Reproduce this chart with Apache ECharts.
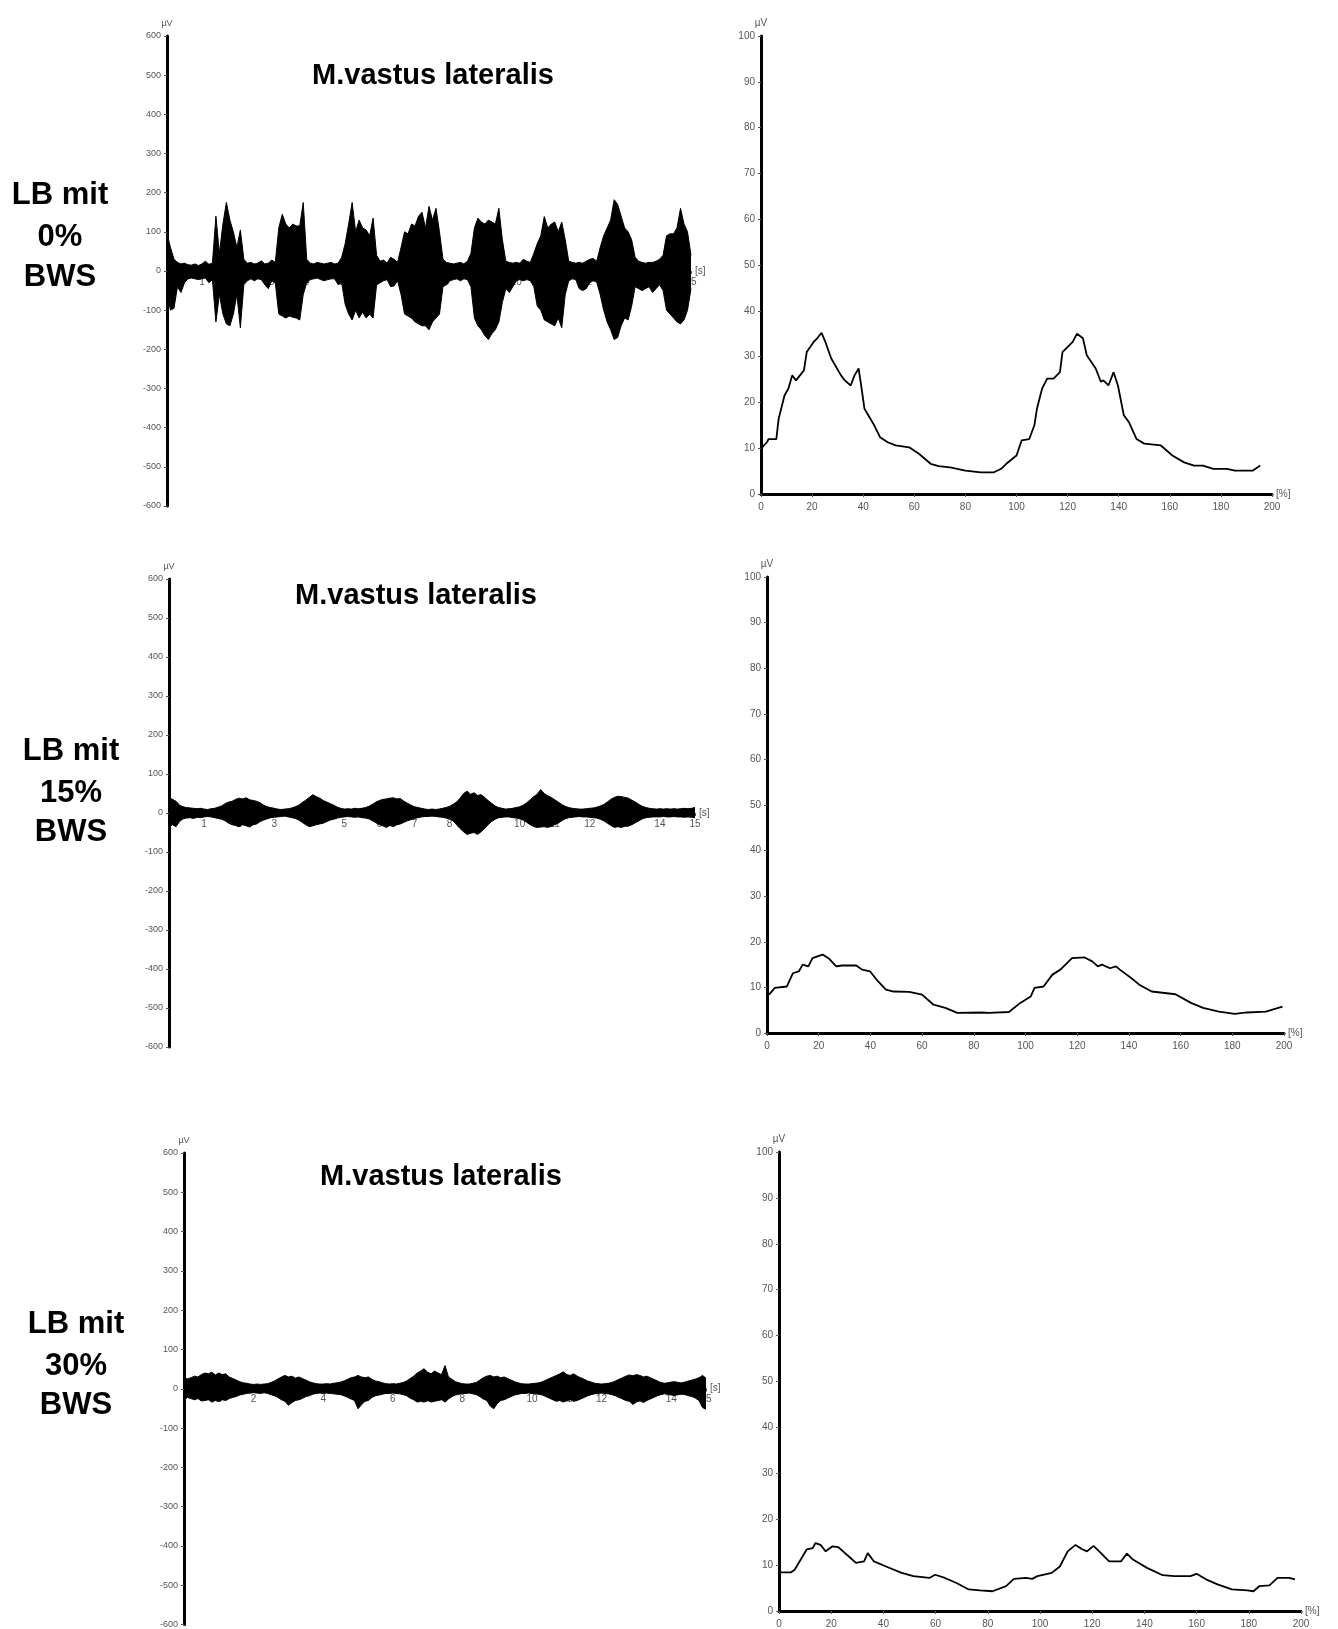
<!DOCTYPE html>
<html><head><meta charset="utf-8">
<script src="https://cdn.jsdelivr.net/npm/echarts@6/dist/echarts.min.js"></script>
<style>html,body{margin:0;padding:0;background:#fff}#c{width:1338px;height:1629px}</style>
</head><body><div id="c"></div>
<script>
// ---------- DATA ----------
// Raw EMG (µV), sampled every 0.1 s from 0 to 15 s: upper and lower extent of the trace
const STEP = 0.1;
const raw1Up = [95,60,30,22,18,20,16,15,18,14, 18,25,17,20,140,45,120,175,130,100, 60,105,30,20,22,18,20,26,18,20,
  28,22,110,145,120,110,120,115,115,175, 30,20,18,22,20,18,20,22,18,20, 35,70,120,175,100,130,110,105,90,135,
  40,25,28,20,35,30,22,60,100,95, 120,115,140,150,110,165,130,160,100,30, 22,20,18,20,22,18,25,45,110,135,
  125,120,130,125,120,160,80,25,22,20, 22,20,30,25,22,45,70,90,139,110, 120,125,100,125,80,25,22,20,22,20,
  25,30,32,25,60,90,110,130,182,170, 140,110,100,80,35,25,22,20,22,22, 25,30,40,90,95,95,110,160,120,100, 40];
const raw1Lo = [-60,-100,-95,-40,-55,-30,-20,-18,-20,-22, -20,-18,-30,-22,-130,-60,-110,-135,-140,-110,
  -60,-145,-35,-25,-20,-25,-20,-22,-35,-45, -25,-30,-110,-115,-120,-115,-118,-120,-125,-60,
  -30,-22,-20,-18,-22,-25,-22,-20,-20,-35, -30,-85,-110,-125,-100,-120,-105,-120,-110,-120,
  -35,-30,-25,-22,-40,-38,-25,-60,-110,-115, -120,-130,-135,-140,-140,-150,-130,-120,-110,-40,
  -35,-25,-22,-20,-25,-20,-22,-40,-120,-140, -150,-165,-175,-160,-150,-130,-80,-45,-55,-40,
  -25,-22,-25,-22,-25,-40,-90,-100,-125,-130, -135,-140,-120,-145,-60,-25,-20,-22,-45,-50,
  -45,-30,-25,-28,-60,-100,-130,-150,-175,-170, -140,-120,-125,-90,-40,-45,-50,-45,-40,-55,
  -45,-35,-50,-100,-110,-120,-130,-135,-125,-100, -45];

const raw2Up = [39,35,30,20,16,14,13,12,11,12, 10,9,11,12,15,18,24,28,30,35, 38,36,39,34,32,30,26,20,16,14,
  12,10,9,10,11,13,16,20,27,33, 40,47,42,38,32,28,24,20,15,12, 10,11,10,12,11,12,14,17,22,28,
  32,35,36,38,39,36,37,30,25,20, 16,14,12,10,9,10,9,10,12,14, 17,22,28,38,50,56,48,52,45,47,
  40,32,25,18,14,12,10,11,12,14, 16,20,26,34,42,48,60,50,44,40, 34,28,22,17,14,12,11,10,10,11,
  12,13,15,18,22,28,35,40,43,42, 40,38,33,28,22,17,14,12,11,10, 11,10,11,10,11,10,11,12,11,12, 14];
const raw2Lo = [-37,-30,-35,-22,-15,-13,-12,-14,-11,-12, -10,-9,-10,-12,-14,-16,-20,-26,-30,-32,
  -35,-30,-33,-36,-30,-28,-22,-18,-15,-12, -11,-10,-9,-8,-10,-12,-14,-18,-24,-30,
  -35,-33,-30,-28,-26,-22,-18,-16,-13,-11, -10,-9,-10,-11,-10,-12,-13,-15,-20,-25,
  -30,-33,-37,-32,-35,-30,-28,-24,-20,-17, -14,-12,-10,-9,-9,-8,-9,-10,-11,-13,
  -15,-20,-30,-40,-48,-55,-52,-50,-55,-48, -40,-30,-22,-16,-12,-11,-10,-10,-12,-13,
  -15,-18,-24,-30,-35,-37,-36,-35,-37,-34, -30,-26,-20,-15,-12,-11,-10,-9,-10,-10,
  -11,-12,-13,-16,-20,-26,-32,-37,-35,-37, -34,-33,-30,-25,-20,-15,-12,-11,-10,-10,
  -10,-9,-10,-10,-9,-10,-10,-11,-10,-11, -12];

const raw3Up = [30,25,28,32,30,36,40,38,42,35, 40,36,38,30,26,22,18,15,14,12, 11,12,11,12,13,16,20,25,30,34,
  30,32,27,30,26,22,18,15,13,12, 12,13,12,14,15,17,20,24,28,30, 34,30,28,30,24,20,18,15,13,12,
  13,12,14,16,20,26,32,40,45,51, 42,38,45,40,36,59,30,24,18,15, 13,12,12,14,16,22,28,32,34,30,
  32,28,30,26,22,18,15,13,12,12, 13,14,15,18,22,26,30,34,38,43, 36,34,38,32,28,24,20,17,14,13,
  12,13,14,16,20,24,28,32,35,33, 36,34,30,32,28,24,20,16,14,15, 17,18,16,15,17,20,22,25,28,34, 27];
const raw3Lo = [-30,-22,-25,-28,-25,-31,-30,-28,-34,-30, -32,-28,-30,-25,-22,-20,-16,-14,-12,-11,
  -10,-11,-12,-10,-12,-15,-18,-22,-28,-32, -42,-35,-30,-28,-25,-20,-18,-14,-12,-11,
  -12,-11,-12,-13,-14,-15,-18,-22,-26,-30, -51,-41,-32,-30,-22,-18,-16,-14,-12,-12,
  -11,-12,-13,-15,-18,-24,-28,-34,-32,-34, -30,-34,-32,-30,-28,-34,-26,-20,-16,-14,
  -12,-12,-11,-13,-15,-20,-26,-30,-44,-51, -38,-30,-28,-24,-20,-16,-14,-12,-12,-11,
  -12,-13,-14,-16,-20,-24,-28,-32,-30,-34, -30,-28,-32,-30,-26,-22,-18,-15,-13,-12,
  -11,-12,-13,-15,-18,-22,-26,-30,-32,-40, -34,-30,-35,-30,-26,-22,-18,-15,-13,-14,
  -16,-17,-15,-14,-15,-18,-20,-24,-30,-48, -52];

// Averaged envelopes: gait cycle [%] and amplitude [µV]
const env1Pct = [0,2.3,3,6,6.9,9.2,10.7,12.2,13.7,16.8,17.9,20.6,22,23.7,25.2,27.5,31.3,32.8,35.1,36.6,38.2,39.2,40.5,42,44.3,46.6,49.6,52.7,58,61.8,66.4,69.5,74,80,86,91,94,96,100,102,105,107,108,110,112,114.5,117,118,122,123.7,126,127.5,131,133,134,136,138,139.7,142,144,147,150,156.5,161,165.6,169.5,173,177,182.4,185.5,192.4,195.4];
const env1Val = [9.9,11.3,12,12,16.4,21.5,23,25.9,24.8,27,31,33.2,34,35.2,33.2,29.6,25.9,24.8,23.7,25.9,27.4,23.7,18.6,17.2,15,12.4,11.3,10.6,10.2,8.8,6.6,6.1,5.8,5.1,4.7,4.7,5.5,6.6,8.4,11.7,12,15,18.6,23,25.2,25.2,26.6,31,33.2,35,34,30.3,27.4,24.5,24.8,23.7,26.6,23.7,17.2,15.7,12,11,10.6,8.4,6.9,6.2,6.2,5.5,5.5,5.1,5.1,6.2];
const env2Pct = [0.8,3,7.7,10,12.3,13.8,16,17.6,21.5,23.8,26.8,29,34.5,36.8,39.9,43,46,49,55,60,64.4,69,73.6,82.8,85.9,93.6,98,102,103.5,107,110.4,113.5,118,122.7,125.8,128,129.6,132.7,135,136.5,141,144,148.8,158,164,168.7,174.8,181,185.6,193,199.4];
const env2Val = [8.4,9.9,10.2,13.1,13.5,15,14.6,16.4,17.2,16.4,14.6,14.8,14.8,13.9,13.5,11.3,9.5,9.1,9,8.4,6.2,5.5,4.4,4.5,4.4,4.6,6.6,8,9.9,10.2,12.8,13.9,16.4,16.6,15.7,14.6,15,14.2,14.6,13.9,12,10.6,9.1,8.5,6.6,5.5,4.7,4.2,4.5,4.7,5.8];
const env3Pct = [0,4.5,6,10.6,12.9,14,15.9,17.9,20.5,22.7,27.3,29.5,32.6,34,36.4,41,47,51.5,57.6,59.8,63.6,68,72.7,77,81.8,87,90,94.7,97,99,104.5,107.6,110.6,113.6,116,118,120.5,122.7,126.5,131,133.3,135.6,141,147,151.5,157.6,160,163.6,168,173.5,179.5,181.8,184,187.9,191,195.5,197.7];
const env3Val = [8.4,8.4,9,13.4,13.7,14.8,14.4,13,14.1,13.9,11.6,10.5,10.8,12.6,10.8,9.7,8.3,7.6,7.2,7.9,7.2,6.1,4.7,4.5,4.3,5.4,7,7.2,7,7.6,8.3,9.7,13,14.4,13.5,13,14.2,13,10.8,10.8,12.5,11.2,9.4,7.8,7.6,7.6,8.1,6.9,5.8,4.7,4.5,4.3,5.4,5.6,7.2,7.2,6.9];

const titleText = 'M.vastus lateralis';
const rowLabels = [['LB mit','0%','BWS'],['LB mit','15%','BWS'],['LB mit','30%','BWS']];

// ---------- BUILD ----------
const FONT = '"Liberation Sans", Arial, sans-serif';
const withTime = arr => arr.map((v, i) => [Math.round(i * STEP * 10) / 10, v]);
const zip = (xs, ys) => xs.map((x, i) => [x, ys[i]]);

const leftGrids = [
  {left:167, top:36, width:524, height:470},
  {left:169, top:579, width:526, height:468},
  {left:184, top:1153, width:522, height:472}
];
const rightGrids = [
  {left:761, top:36, width:511, height:458},
  {left:767, top:577, width:517, height:456},
  {left:779, top:1152, width:522, height:460}
];
const grid = leftGrids.concat(rightGrids);

const lblStyle = {fontSize:10, color:'#555', fontFamily:FONT};
const xAxis = [], yAxis = [], series = [];
leftGrids.forEach((g, i) => {
  xAxis.push({type:'value', gridIndex:i, min:0, max:15, interval:1,
    position:'bottom', offset:-g.height / 2,
    axisLine:{onZero:false, lineStyle:{color:'#000', width:1}},
    axisTick:{show:true, length:3, lineStyle:{color:'#555'}},
    axisLabel:Object.assign({margin:6, formatter:v => v === 0 ? '' : String(v)}, lblStyle),
    splitLine:{show:false},
    name:'[s]', nameLocation:'end', nameGap:4, nameTextStyle:lblStyle});
  yAxis.push({type:'value', gridIndex:i, min:-600, max:600, interval:100,
    axisLine:{show:true, onZero:false, lineStyle:{color:'#000', width:3}},
    axisTick:{show:true, length:3, lineStyle:{color:'#555'}},
    axisLabel:Object.assign({margin:6}, lblStyle, {fontSize:9}),
    splitLine:{show:false},
    name:'µV', nameLocation:'end', nameGap:8, nameTextStyle:Object.assign({}, lblStyle, {fontSize:9})});
});
rightGrids.forEach((g, i) => {
  xAxis.push({type:'value', gridIndex:3 + i, min:0, max:200, interval:20,
    axisLine:{onZero:false, lineStyle:{color:'#000', width:3}},
    axisTick:{show:true, length:3, lineStyle:{color:'#555'}},
    axisLabel:Object.assign({margin:8}, lblStyle),
    splitLine:{show:false},
    name:'[%]', nameLocation:'end', nameGap:4, nameTextStyle:lblStyle});
  yAxis.push({type:'value', gridIndex:3 + i, min:0, max:100, interval:10,
    axisLine:{show:true, onZero:false, lineStyle:{color:'#000', width:3}},
    axisTick:{show:true, length:3, lineStyle:{color:'#555'}},
    axisLabel:Object.assign({margin:6}, lblStyle),
    splitLine:{show:false},
    name:'µV', nameLocation:'end', nameGap:8, nameTextStyle:lblStyle});
});

const raws = [[raw1Up, raw1Lo], [raw2Up, raw2Lo], [raw3Up, raw3Lo]];
raws.forEach((pair, i) => {
  pair.forEach(arr => {
    series.push({type:'line', xAxisIndex:i, yAxisIndex:i, data:withTime(arr),
      symbol:'none', silent:true, animation:false, z:3,
      lineStyle:{color:'#000', width:1}, areaStyle:{color:'#000', opacity:1}});
  });
});
const envs = [[env1Pct, env1Val], [env2Pct, env2Val], [env3Pct, env3Val]];
envs.forEach((e, i) => {
  series.push({type:'line', xAxisIndex:3 + i, yAxisIndex:3 + i, data:zip(e[0], e[1]),
    symbol:'none', silent:true, animation:false, lineStyle:{color:'#000', width:1.8}});
});

const titlePos = [[433, 76], [416, 596], [441, 1177]];
const labelPos = [[60, [195, 237, 277]], [71, [751, 793, 832]], [76, [1324, 1366, 1405]]];
const graphic = [];
titlePos.forEach(p => graphic.push({type:'text', x:p[0], y:p[1], silent:true,
  style:{text:titleText, font:'bold 29px ' + FONT, fill:'#000', align:'center', verticalAlign:'middle', textAlign:'center', textVerticalAlign:'middle'}}));
labelPos.forEach((p, i) => rowLabels[i].forEach((t, k) => graphic.push({type:'text', x:p[0], y:p[1][k], silent:true,
  style:{text:t, font:'bold 31px ' + FONT, fill:'#000', align:'center', verticalAlign:'middle', textAlign:'center', textVerticalAlign:'middle'}})));

const chart = echarts.init(document.getElementById('c'), null, {renderer:'canvas'});
chart.setOption({animation:false, backgroundColor:'#fff', grid, xAxis, yAxis, series, graphic});
</script></body></html>
